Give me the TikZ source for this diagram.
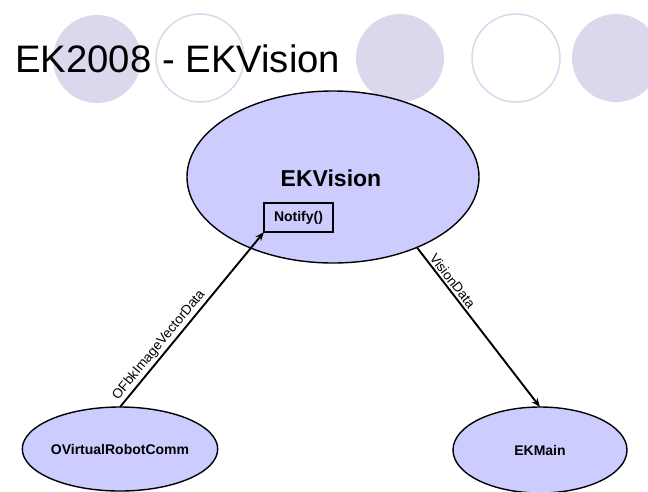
\documentclass[tikz,border=0pt]{standalone}
\usepackage{fontspec}
\setmainfont{Liberation Sans}
\usetikzlibrary{arrows.meta,shapes.geometric}
\definecolor{deco}{RGB}{218,216,236}
\definecolor{nodefill}{RGB}{204,204,255}
\begin{document}
\begin{tikzpicture}[x=1pt,y=-1pt,
  decofill/.style={fill=deco,draw=none},
  decoring/.style={draw=deco,line width=1.5pt},
  comp/.style={ellipse,draw=black,line width=1.4pt,fill=nodefill,inner sep=0pt,outer sep=0pt,
    font=\bfseries\fontsize{14}{16}\selectfont},
  methodbox/.style={draw=black,line width=1.3pt,inner sep=0pt,outer sep=0pt,
    minimum width=69pt,minimum height=29pt,font=\bfseries\fontsize{14}{16}\selectfont},
  flow/.style={draw=black,line width=1.9pt,-{Stealth[length=9pt,width=7pt]}},
  lab/.style={font=\fontsize{13.5}{15}\selectfont,inner sep=2pt,sloped,above}]
\clip (0,0) rectangle (648,491);
\useasboundingbox (0,0) rectangle (648,491);
% decorative circles
\fill[decofill] (97,59) circle (44);
\draw[decoring] (200,58) circle (44);
\fill[decofill] (400,58) circle (44);
\draw[decoring] (516,58) circle (44);
\fill[decofill] (616,58) circle (44);
% title
\node[anchor=base west,inner sep=0pt,font=\fontsize{38.3}{40}\selectfont] (title) at (15,72) {EK2008 - EKVision};
% components
\node[comp,minimum width=292pt,minimum height=172pt] (ekv) at (333,177) {};
\node[font=\bfseries\fontsize{23}{26}\selectfont,inner sep=0pt] (ekvt) at (331,178) {EKVision};
\node[methodbox] (nb) at (298.5,217.5) {Notify()};
\node[comp,minimum width=174pt,minimum height=84pt] (ovr) at (120,449) {OVirtualRobotComm};
\node[comp,minimum width=174pt,minimum height=86pt] (ekm) at (540,450) {EKMain};
% connectors
\draw[flow] (ovr.north) -- node[lab,pos=0.32] {OFbkImageVectorData} (nb.south west);
\draw[flow] (ekv.-40.5) -- node[lab,pos=0.24] {VisionData} (ekm.north);
\end{tikzpicture}
\end{document}
